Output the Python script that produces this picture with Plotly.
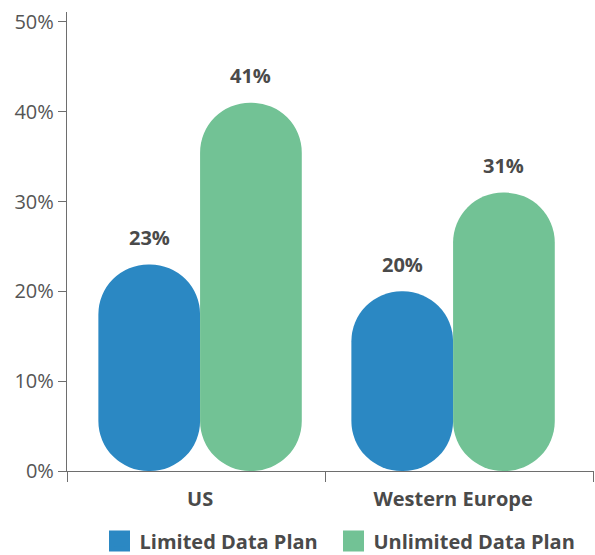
import plotly.graph_objects as go

# Survey data
regions = ["US", "Western Europe"]
series_names = ["Limited Data Plan", "Unlimited Data Plan"]
limited = [23, 20]
unlimited = [41, 31]
y_ticks = [0, 10, 20, 30, 40, 50]

colors = ["#2b88c3", "#72c295"]
text_color = "#4a4a4a"
axis_color = "#6e6e6e"
font_family = "Open Sans, Noto Sans, sans-serif"

bar_width = 0.402
offsets = [-bar_width, 0.0]
x_pos = list(range(len(regions)))

fig = go.Figure()

# Pill-shaped bars: an explicit base lets both ends take the corner radius
for name, values, color, off in zip(series_names, [limited, unlimited], colors, offsets):
    fig.add_trace(go.Bar(
        x=x_pos, y=values, base=[0] * len(values),
        offset=off, width=bar_width, name=f"<b>{name}</b>",
        marker=dict(color=color, cornerradius="50%", line=dict(width=0)),
        showlegend=False, hoverinfo="skip",
    ))
    for x, v in zip(x_pos, values):
        fig.add_annotation(
            x=x + off + bar_width / 2, y=v, text=f"<b>{v}%</b>",
            showarrow=False, yanchor="middle", yshift=27,
            font=dict(family=font_family, size=20, color=text_color),
        )

# Legend entries, each in its own legend box along the bottom
legend_ids = ["legend", "legend2"]
for name, color, lg in zip(series_names, colors, legend_ids):
    fig.add_trace(go.Scatter(
        x=[None], y=[None], mode="markers", name=f"<b>{name}</b>",
        legend=lg,
        marker=dict(symbol="square", size=16, color=color,
                    line=dict(width=5, color=color)),
    ))

legend_style = dict(
    orientation="h", xanchor="left", y=-0.1526, yanchor="middle",
    font=dict(family=font_family, size=20, color=text_color),
    bgcolor="rgba(0,0,0,0)",
)

fig.update_layout(
    width=595, height=555,
    margin=dict(l=67, r=1, t=12, b=84, autoexpand=False),
    plot_bgcolor="white", paper_bgcolor="white",
    barmode="overlay",
    font=dict(family=font_family, size=20, color=text_color),
    showlegend=True,
    legend=dict(x=0.0617, **legend_style),
    legend2=dict(x=0.5057, **legend_style),
    xaxis=dict(
        range=[-0.526, 1.557],
        tickmode="array", tickvals=x_pos,
        ticktext=[f"<b>{r}</b>" for r in regions],
        ticks="", showgrid=False, zeroline=False,
        showline=True, linecolor=axis_color, linewidth=1.3,
        tickfont=dict(family=font_family, size=20, color=text_color),
        ticklabelstandoff=10,
        minor=dict(tickmode="array", tickvals=[-0.526, 0.494, 1.555],
                   ticks="outside", ticklen=10, tickcolor=axis_color,
                   tickwidth=1.3, showgrid=False),
    ),
    yaxis=dict(
        range=[0, 51.1],
        tickmode="array", tickvals=y_ticks,
        ticktext=[f"{t}%" for t in y_ticks],
        ticks="outside", ticklen=8, tickcolor=axis_color, tickwidth=1.3,
        showgrid=False, zeroline=False,
        showline=True, linecolor=axis_color, linewidth=1.3,
        tickfont=dict(family=font_family, size=20, color="#555555"),
    ),
)

fig.write_html("out.html")
